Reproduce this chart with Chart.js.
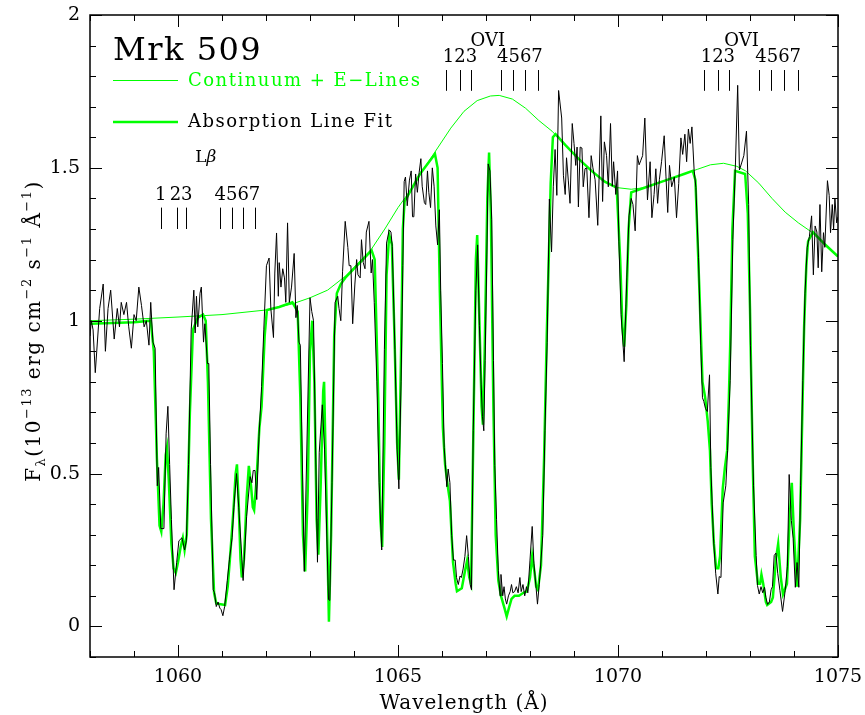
<!DOCTYPE html>
<html>
<head>
<meta charset="utf-8">
<title>Mrk 509</title>
<script src="https://cdn.jsdelivr.net/npm/chart.js@4.4.1/dist/chart.umd.min.js"></script>
<style>
  html, body { margin: 0; padding: 0; background: #fff; }
  #wrap { width: 865px; height: 715px; }
</style>
</head>
<body>
<div id="wrap"><canvas id="spec" width="865" height="715"></canvas></div>
<script>
// observed flux (wavelength in A, flux in 1e-13 cgs)
const obsSpectrum = [
  [1058.00, 0.95], [1058.03, 1.00], [1058.07, 0.97], [1058.12, 0.83], [1058.22, 1.04], [1058.30, 1.12],
  [1058.35, 0.90], [1058.41, 1.04], [1058.47, 1.10], [1058.55, 0.94], [1058.62, 1.04], [1058.67, 0.98],
  [1058.71, 1.06], [1058.77, 1.02], [1058.83, 1.06], [1058.88, 0.98], [1058.94, 0.91], [1059.00, 1.02],
  [1059.05, 1.00], [1059.11, 1.11], [1059.17, 1.05], [1059.23, 0.98], [1059.28, 1.00], [1059.34, 0.92],
  [1059.38, 1.06], [1059.43, 0.93], [1059.48, 0.91], [1059.53, 0.46], [1059.56, 0.52], [1059.61, 0.32],
  [1059.68, 0.32], [1059.73, 0.63], [1059.77, 0.72], [1059.81, 0.53], [1059.85, 0.35], [1059.91, 0.12],
  [1059.97, 0.21], [1060.02, 0.28], [1060.09, 0.29], [1060.15, 0.25], [1060.19, 0.28], [1060.24, 0.53],
  [1060.30, 0.97], [1060.36, 1.10], [1060.39, 0.96], [1060.42, 1.08], [1060.45, 0.98], [1060.50, 1.09],
  [1060.53, 1.11], [1060.58, 0.93], [1060.61, 0.99], [1060.67, 0.86], [1060.70, 0.86], [1060.74, 0.53],
  [1060.80, 0.12], [1060.83, 0.11], [1060.87, 0.065], [1060.91, 0.08], [1060.95, 0.06], [1060.98, 0.055],
  [1061.02, 0.035], [1061.06, 0.065], [1061.12, 0.15], [1061.17, 0.22], [1061.23, 0.29], [1061.27, 0.39],
  [1061.33, 0.50], [1061.38, 0.39], [1061.44, 0.25], [1061.48, 0.15], [1061.56, 0.36], [1061.64, 0.49],
  [1061.68, 0.47], [1061.71, 0.51], [1061.75, 0.51], [1061.79, 0.415], [1061.84, 0.62], [1061.90, 0.785],
  [1061.95, 0.97], [1062.01, 1.18], [1062.07, 1.205], [1062.11, 1.04], [1062.17, 0.945], [1062.20, 1.156],
  [1062.24, 1.287], [1062.28, 1.08], [1062.30, 1.19], [1062.34, 1.11], [1062.38, 1.17], [1062.42, 1.14],
  [1062.45, 1.06], [1062.49, 1.32], [1062.53, 1.06], [1062.58, 1.11], [1062.64, 1.22], [1062.68, 1.01],
  [1062.71, 1.05], [1062.75, 0.93], [1062.78, 0.92], [1062.87, 0.18], [1063.00, 1.075], [1063.04, 1.03],
  [1063.08, 1.00], [1063.17, 0.21], [1063.21, 0.57], [1063.28, 0.725], [1063.33, 0.58], [1063.42, 0.088],
  [1063.45, 0.085], [1063.50, 0.47], [1063.57, 1.06], [1063.63, 1.08], [1063.66, 1.04], [1063.70, 1.00],
  [1063.74, 1.16], [1063.80, 1.325], [1063.86, 1.24], [1063.89, 1.18], [1063.93, 1.18], [1063.97, 0.99],
  [1064.02, 1.12], [1064.06, 1.20], [1064.09, 1.15], [1064.14, 1.14], [1064.17, 1.265], [1064.21, 1.19],
  [1064.25, 1.17], [1064.28, 1.29], [1064.34, 1.325], [1064.39, 1.156], [1064.42, 1.20], [1064.46, 1.06],
  [1064.52, 0.80], [1064.57, 0.47], [1064.63, 0.25], [1064.69, 0.905], [1064.74, 1.254], [1064.80, 1.297],
  [1064.84, 1.29], [1064.87, 1.243], [1064.93, 0.905], [1064.98, 0.58], [1065.02, 0.45], [1065.07, 0.80],
  [1065.11, 1.18], [1065.14, 1.455], [1065.17, 1.47], [1065.21, 1.376], [1065.26, 1.46], [1065.30, 1.49],
  [1065.33, 1.34], [1065.36, 1.34], [1065.40, 1.48], [1065.44, 1.42], [1065.48, 1.484], [1065.52, 1.53],
  [1065.55, 1.44], [1065.60, 1.386], [1065.63, 1.38], [1065.67, 1.49], [1065.70, 1.42], [1065.74, 1.37],
  [1065.78, 1.50], [1065.82, 1.44], [1065.86, 1.31], [1065.90, 1.248], [1065.94, 1.363], [1065.97, 1.10],
  [1066.01, 0.86], [1066.05, 0.585], [1066.11, 0.457], [1066.14, 0.515], [1066.18, 0.47], [1066.22, 0.297],
  [1066.26, 0.217], [1066.30, 0.217], [1066.33, 0.16], [1066.37, 0.137], [1066.41, 0.165], [1066.44, 0.16],
  [1066.48, 0.188], [1066.52, 0.229], [1066.56, 0.297], [1066.60, 0.229], [1066.64, 0.137], [1066.67, 0.12],
  [1066.71, 0.64], [1066.77, 1.10], [1066.81, 1.248], [1066.85, 0.985], [1066.89, 0.79], [1066.92, 0.686],
  [1066.95, 0.64], [1066.98, 0.87], [1067.02, 1.215], [1067.05, 1.513], [1067.09, 1.49], [1067.13, 1.33],
  [1067.17, 0.87], [1067.20, 0.526], [1067.24, 0.35], [1067.28, 0.183], [1067.32, 0.10], [1067.34, 0.17],
  [1067.38, 0.10], [1067.41, 0.13], [1067.44, 0.09], [1067.47, 0.073], [1067.51, 0.10], [1067.55, 0.114],
  [1067.58, 0.137], [1067.61, 0.11], [1067.65, 0.114], [1067.69, 0.13], [1067.73, 0.11], [1067.77, 0.16],
  [1067.80, 0.114], [1067.84, 0.137], [1067.88, 0.10], [1067.92, 0.13], [1067.95, 0.11], [1068.00, 0.217],
  [1068.05, 0.327], [1068.09, 0.205], [1068.14, 0.124], [1068.17, 0.073], [1068.21, 0.137], [1068.29, 0.297],
  [1068.34, 0.64], [1068.39, 0.928], [1068.44, 1.398], [1068.49, 1.225], [1068.53, 1.44], [1068.57, 1.56],
  [1068.61, 1.41], [1068.65, 1.753], [1068.72, 1.663], [1068.76, 1.474], [1068.80, 1.413], [1068.83, 1.533],
  [1068.87, 1.46], [1068.91, 1.384], [1068.96, 1.645], [1069.00, 1.58], [1069.04, 1.508], [1069.07, 1.568],
  [1069.10, 1.372], [1069.14, 1.568], [1069.18, 1.565], [1069.21, 1.438], [1069.25, 1.497], [1069.29, 1.50],
  [1069.34, 1.337], [1069.39, 1.54], [1069.43, 1.50], [1069.48, 1.461], [1069.54, 1.312], [1069.61, 1.67],
  [1069.65, 1.39], [1069.69, 1.585], [1069.74, 1.54], [1069.78, 1.438], [1069.83, 1.645], [1069.87, 1.44],
  [1069.90, 1.52], [1069.95, 1.413], [1069.99, 1.49], [1070.02, 1.258], [1070.07, 1.02], [1070.14, 0.866],
  [1070.20, 1.14], [1070.25, 1.343], [1070.30, 1.40], [1070.34, 1.38], [1070.39, 1.294], [1070.44, 1.54],
  [1070.48, 1.51], [1070.52, 1.525], [1070.56, 1.54], [1070.61, 1.663], [1070.67, 1.395], [1070.73, 1.52],
  [1070.77, 1.337], [1070.82, 1.413], [1070.86, 1.497], [1070.90, 1.384], [1070.94, 1.461], [1070.99, 1.52],
  [1071.05, 1.605], [1071.09, 1.473], [1071.13, 1.354], [1071.17, 1.508], [1071.22, 1.438], [1071.28, 1.47],
  [1071.33, 1.337], [1071.38, 1.449], [1071.43, 1.598], [1071.47, 1.544], [1071.52, 1.61], [1071.56, 1.52],
  [1071.60, 1.627], [1071.64, 1.58], [1071.68, 1.634], [1071.73, 1.493], [1071.77, 1.436], [1071.83, 1.206],
  [1071.88, 0.92], [1071.92, 0.748], [1071.95, 0.736], [1071.99, 0.712], [1072.03, 0.703], [1072.08, 0.823],
  [1072.11, 0.52], [1072.17, 0.289], [1072.22, 0.174], [1072.27, 0.106], [1072.30, 0.163], [1072.34, 0.16],
  [1072.39, 0.404], [1072.45, 0.46], [1072.49, 0.575], [1072.55, 0.805], [1072.61, 1.265], [1072.67, 1.516],
  [1072.72, 1.77], [1072.76, 1.493], [1072.81, 1.516], [1072.86, 1.54], [1072.92, 1.62], [1072.97, 1.38],
  [1073.01, 0.92], [1073.08, 0.46], [1073.14, 0.232], [1073.17, 0.134], [1073.21, 0.106], [1073.25, 0.13],
  [1073.29, 0.11], [1073.33, 0.128], [1073.36, 0.095], [1073.40, 0.072], [1073.44, 0.08], [1073.48, 0.12],
  [1073.51, 0.13], [1073.55, 0.232], [1073.59, 0.24], [1073.63, 0.174], [1073.68, 0.118], [1073.74, 0.049],
  [1073.80, 0.118], [1073.85, 0.197], [1073.89, 0.497], [1073.94, 0.346], [1073.98, 0.289], [1074.03, 0.128],
  [1074.07, 0.209], [1074.11, 0.128], [1074.15, 0.46], [1074.20, 0.805], [1074.25, 1.09], [1074.30, 1.24],
  [1074.35, 1.275], [1074.40, 1.343], [1074.44, 1.15], [1074.48, 1.31], [1074.52, 1.29], [1074.55, 1.173],
  [1074.59, 1.38], [1074.63, 1.16], [1074.67, 1.288], [1074.70, 1.24], [1074.76, 1.458], [1074.80, 1.41],
  [1074.83, 1.288], [1074.87, 1.38], [1074.90, 1.30], [1074.93, 1.40], [1074.97, 1.32], [1075.00, 1.34]
];

// absorption line fit
const fitProfile = [
  [1058.00, 0.99], [1059.00, 0.995], [1059.38, 1.00], [1059.45, 0.90], [1059.52, 0.55], [1059.58, 0.33],
  [1059.62, 0.31], [1059.67, 0.40], [1059.72, 0.56], [1059.75, 0.585], [1059.79, 0.48], [1059.85, 0.27],
  [1059.90, 0.19], [1059.95, 0.175], [1060.00, 0.21], [1060.06, 0.26], [1060.11, 0.29], [1060.15, 0.25],
  [1060.20, 0.30], [1060.27, 0.70], [1060.34, 0.97], [1060.45, 1.01], [1060.57, 1.02], [1060.63, 1.00],
  [1060.68, 0.80], [1060.75, 0.35], [1060.82, 0.11], [1060.87, 0.075], [1061.07, 0.07], [1061.13, 0.13],
  [1061.18, 0.22], [1061.26, 0.38], [1061.31, 0.50], [1061.34, 0.53], [1061.38, 0.40], [1061.42, 0.22],
  [1061.45, 0.16], [1061.50, 0.22], [1061.56, 0.42], [1061.61, 0.525], [1061.66, 0.46], [1061.70, 0.39],
  [1061.73, 0.38], [1061.78, 0.47], [1061.85, 0.65], [1061.90, 0.72], [1061.97, 0.95], [1062.02, 1.035],
  [1062.30, 1.045], [1062.60, 1.06], [1062.72, 1.03], [1062.78, 0.75], [1062.84, 0.30], [1062.89, 0.18],
  [1062.95, 0.45], [1063.00, 0.90], [1063.05, 1.00], [1063.10, 0.80], [1063.15, 0.35], [1063.19, 0.235],
  [1063.24, 0.45], [1063.30, 0.77], [1063.32, 0.80], [1063.37, 0.45], [1063.43, 0.015], [1063.48, 0.30],
  [1063.55, 0.95], [1063.61, 1.09], [1063.70, 1.12], [1063.80, 1.14], [1064.00, 1.17], [1064.20, 1.20],
  [1064.40, 1.23], [1064.47, 1.20], [1064.55, 0.75], [1064.60, 0.35], [1064.64, 0.26], [1064.69, 0.60],
  [1064.74, 1.15], [1064.80, 1.28], [1064.86, 1.25], [1064.92, 0.95], [1064.98, 0.60], [1065.02, 0.48],
  [1065.07, 0.90], [1065.11, 1.30], [1065.15, 1.39], [1065.50, 1.48], [1065.84, 1.545], [1065.90, 1.50],
  [1065.95, 1.10], [1066.02, 0.65], [1066.07, 0.53], [1066.13, 0.46], [1066.18, 0.41], [1066.25, 0.21],
  [1066.31, 0.14], [1066.34, 0.115], [1066.45, 0.125], [1066.52, 0.18], [1066.57, 0.215], [1066.62, 0.16],
  [1066.66, 0.14], [1066.72, 0.70], [1066.77, 1.20], [1066.80, 1.28], [1066.85, 1.00], [1066.90, 0.72],
  [1066.93, 0.66], [1066.97, 0.90], [1067.03, 1.40], [1067.07, 1.55], [1067.11, 1.35], [1067.17, 0.70],
  [1067.22, 0.30], [1067.28, 0.15], [1067.34, 0.10], [1067.42, 0.06], [1067.47, 0.033], [1067.52, 0.06],
  [1067.58, 0.09], [1067.65, 0.10], [1067.75, 0.10], [1067.85, 0.11], [1067.93, 0.115], [1068.00, 0.16],
  [1068.05, 0.23], [1068.10, 0.18], [1068.14, 0.13], [1068.18, 0.12], [1068.25, 0.20], [1068.32, 0.55],
  [1068.38, 0.95], [1068.43, 1.22], [1068.47, 1.45], [1068.52, 1.60], [1068.58, 1.61], [1068.80, 1.575],
  [1069.10, 1.53], [1069.40, 1.49], [1069.70, 1.455], [1069.97, 1.435], [1070.05, 1.20], [1070.10, 0.98],
  [1070.14, 0.915], [1070.19, 1.05], [1070.24, 1.30], [1070.30, 1.42], [1070.60, 1.435], [1070.90, 1.45],
  [1071.20, 1.465], [1071.50, 1.48], [1071.70, 1.49], [1071.76, 1.46], [1071.85, 1.10], [1071.92, 0.80],
  [1071.98, 0.75], [1072.04, 0.67], [1072.09, 0.575], [1072.13, 0.40], [1072.18, 0.27], [1072.23, 0.19],
  [1072.28, 0.19], [1072.32, 0.23], [1072.38, 0.45], [1072.43, 0.52], [1072.48, 0.575], [1072.52, 0.75],
  [1072.55, 0.92], [1072.60, 1.30], [1072.66, 1.49], [1072.89, 1.48], [1072.95, 1.35], [1073.00, 1.04],
  [1073.06, 0.55], [1073.11, 0.23], [1073.18, 0.14], [1073.23, 0.14], [1073.26, 0.17], [1073.30, 0.14],
  [1073.36, 0.08], [1073.39, 0.07], [1073.48, 0.08], [1073.52, 0.095], [1073.59, 0.22], [1073.64, 0.27],
  [1073.70, 0.16], [1073.75, 0.105], [1073.84, 0.14], [1073.90, 0.35], [1073.95, 0.47], [1074.00, 0.30],
  [1074.07, 0.13], [1074.14, 0.35], [1074.19, 0.70], [1074.23, 0.98], [1074.28, 1.18], [1074.32, 1.26],
  [1074.43, 1.29], [1074.70, 1.25], [1075.00, 1.21]
];

// continuum + emission lines
const continuum = [
  [1058.0, 1.00], [1059.0, 1.005], [1060.0, 1.012], [1061.0, 1.02], [1062.0, 1.035], [1062.6, 1.055],
  [1063.0, 1.075], [1063.4, 1.10], [1063.8, 1.145], [1064.1, 1.19], [1064.4, 1.235], [1064.7, 1.30],
  [1065.0, 1.37], [1065.3, 1.43], [1065.6, 1.50], [1065.9, 1.565], [1066.2, 1.63], [1066.5, 1.685],
  [1066.8, 1.72], [1067.1, 1.735], [1067.3, 1.737], [1067.6, 1.725], [1067.9, 1.695], [1068.2, 1.655],
  [1068.5, 1.62], [1068.8, 1.575], [1069.1, 1.53], [1069.4, 1.49], [1069.7, 1.455], [1070.0, 1.435],
  [1070.3, 1.43], [1070.6, 1.435], [1070.9, 1.45], [1071.2, 1.465], [1071.5, 1.48], [1071.8, 1.495],
  [1072.1, 1.51], [1072.4, 1.515], [1072.7, 1.505], [1072.9, 1.49], [1073.2, 1.45], [1073.5, 1.40],
  [1073.8, 1.355], [1074.1, 1.32], [1074.4, 1.29], [1074.7, 1.25], [1075.0, 1.21]
];

const xRange = [1058, 1075];
const yRange = [-0.1, 2];
const xTickVals = [1060, 1065, 1070, 1075];
const yTickVals = [0, 0.5, 1, 1.5, 2];
const yTickLabels = ['0', '0.5', '1', '1.5', '2'];

// line identification marks (wavelengths)
const lyBetaMarks = [1059.61, 1059.97, 1060.18, 1060.95, 1061.22, 1061.48, 1061.75];
const oviMarksA = [1066.09, 1066.41, 1066.66, 1067.33, 1067.61, 1067.89, 1068.19];
const oviMarksB = [1071.96, 1072.28, 1072.53, 1073.20, 1073.48, 1073.78, 1074.08];

const GREEN = '#00ff00';
const SERIF = "'DejaVu Serif', serif";

function toPoints(pairs) {
  return pairs.map(p => ({ x: p[0], y: p[1] }));
}

// draws a run of text pieces with sub/superscripts, starting at x
function drawPieces(ctx, pieces, x, y) {
  pieces.forEach(p => {
    ctx.font = p.size + 'px ' + SERIF;
    ctx.fillText(p.t, x, y + (p.dy || 0));
    x += ctx.measureText(p.t).width;
  });
  return x;
}

function piecesWidth(ctx, pieces) {
  let w = 0;
  pieces.forEach(p => {
    ctx.font = p.size + 'px ' + SERIF;
    w += ctx.measureText(p.t).width;
  });
  return w;
}

const decorations = {
  id: 'decorations',
  afterDatasetsDraw(chart) {
    const ctx = chart.ctx;
    const { left, right, top, bottom } = chart.chartArea;
    const xs = chart.scales.x;
    const ys = chart.scales.y;

    ctx.save();
    ctx.strokeStyle = '#000';
    ctx.lineWidth = 1;

    // inward ticks on all four sides
    ctx.beginPath();
    for (let w = xRange[0]; w <= xRange[1]; w++) {
      const len = w % 5 === 0 ? 12 : 6;
      const px = Math.round(xs.getPixelForValue(w)) + 0.5;
      ctx.moveTo(px, bottom); ctx.lineTo(px, bottom - len);
      ctx.moveTo(px, top); ctx.lineTo(px, top + len);
    }
    for (let i = -1; i <= 20; i++) {
      const len = i % 5 === 0 ? 12 : 6;
      const py = Math.round(ys.getPixelForValue(i / 10)) + 0.5;
      ctx.moveTo(left, py); ctx.lineTo(left + len, py);
      ctx.moveTo(right, py); ctx.lineTo(right - len, py);
    }
    ctx.stroke();

    ctx.lineWidth = 1.5;
    ctx.strokeRect(left, top, right - left, bottom - top);

    // line id marks
    ctx.lineWidth = 1;
    function marks(waves, yTop, yBot) {
      ctx.beginPath();
      waves.forEach(w => {
        const px = Math.round(xs.getPixelForValue(w)) + 0.5;
        ctx.moveTo(px, ys.getPixelForValue(yTop));
        ctx.lineTo(px, ys.getPixelForValue(yBot));
      });
      ctx.stroke();
    }
    marks(lyBetaMarks, 1.37, 1.30);
    marks(oviMarksA, 1.82, 1.752);
    marks(oviMarksB, 1.82, 1.752);

    ctx.fillStyle = '#000';
    ctx.textAlign = 'center';
    ctx.textBaseline = 'middle';
    ctx.font = '18px ' + SERIF;
    function label(text, w, f) {
      ctx.fillText(text, xs.getPixelForValue(w), ys.getPixelForValue(f));
    }
    label('1', 1059.61, 1.41);
    label('23', 1060.07, 1.41);
    label('4567', 1061.35, 1.41);
    label('123', 1066.41, 1.86);
    label('4567', 1067.77, 1.86);
    label('OVI', 1067.04, 1.915);
    label('123', 1072.27, 1.86);
    label('4567', 1073.64, 1.86);
    label('OVI', 1072.81, 1.915);

    // L-beta label
    ctx.textAlign = 'left';
    const lbx = xs.getPixelForValue(1060.64) - 11;
    const lby = ys.getPixelForValue(1.535);
    ctx.font = '17px ' + SERIF;
    ctx.fillText('L', lbx, lby);
    const lw = ctx.measureText('L').width;
    ctx.font = 'italic 17px ' + SERIF;
    ctx.fillText('\u03b2', lbx + lw, lby);

    // object name
    ctx.textBaseline = 'alphabetic';
    ctx.letterSpacing = '1.5px';
    ctx.font = '32px ' + SERIF;
    ctx.fillText('Mrk 509', 113, 60);

    // key
    ctx.font = '18px ' + SERIF;
    ctx.fillStyle = GREEN;
    ctx.fillText('Continuum + E\u2212Lines', 188, 86);
    ctx.fillStyle = '#000';
    ctx.fillText('Absorption Line Fit', 188, 127);
    ctx.strokeStyle = GREEN;
    ctx.lineWidth = 1;
    ctx.beginPath(); ctx.moveTo(113, 80.5); ctx.lineTo(178, 80.5); ctx.stroke();
    ctx.lineWidth = 2.5;
    ctx.beginPath(); ctx.moveTo(113, 122); ctx.lineTo(178, 122); ctx.stroke();

    // x axis title
    ctx.fillStyle = '#000';
    ctx.letterSpacing = '1px';
    ctx.textAlign = 'center';
    ctx.font = '20px ' + SERIF;
    ctx.fillText('Wavelength (\u00c5)', (left + right) / 2, 709);

    // y axis title, rotated
    ctx.letterSpacing = '1.5px';
    ctx.textAlign = 'left';
    const big = 20, small = 13;
    const yTitle = [
      { t: 'F', size: big },
      { t: '\u03bb', size: small, dy: 5 },
      { t: '(10', size: big },
      { t: '\u221213', size: small, dy: -9 },
      { t: ' erg cm', size: big },
      { t: '\u22122', size: small, dy: -9 },
      { t: ' s', size: big },
      { t: '\u22121', size: small, dy: -9 },
      { t: ' \u00c5', size: big },
      { t: '\u22121', size: small, dy: -9 },
      { t: ')', size: big }
    ];
    const tw = piecesWidth(ctx, yTitle);
    ctx.translate(40, 331);
    ctx.rotate(-Math.PI / 2);
    drawPieces(ctx, yTitle, -tw / 2, 0);
    ctx.restore();
  }
};

new Chart(document.getElementById('spec'), {
  type: 'scatter',
  data: {
    datasets: [
      {
        label: 'Data',
        data: toPoints(obsSpectrum),
        showLine: true,
        borderColor: '#000',
        borderWidth: 1,
        pointRadius: 0,
        tension: 0
      },
      {
        label: 'Absorption Line Fit',
        data: toPoints(fitProfile),
        showLine: true,
        borderColor: GREEN,
        borderWidth: 2.5,
        pointRadius: 0,
        tension: 0
      },
      {
        label: 'Continuum + E-Lines',
        data: toPoints(continuum),
        showLine: true,
        borderColor: GREEN,
        borderWidth: 1,
        pointRadius: 0,
        tension: 0
      }
    ]
  },
  options: {
    responsive: false,
    devicePixelRatio: 1,
    animation: false,
    layout: { padding: { left: 0, right: 27, top: 15, bottom: 0 } },
    plugins: {
      legend: { display: false },
      tooltip: { enabled: false }
    },
    scales: {
      x: {
        type: 'linear',
        min: xRange[0],
        max: xRange[1],
        afterBuildTicks: s => { s.ticks = xTickVals.map(v => ({ value: v })); },
        afterFit: s => { s.height = 58; s.paddingLeft = 0; s.paddingRight = 0; },
        grid: { display: false, drawTicks: false },
        border: { display: false },
        ticks: {
          color: '#000',
          padding: 9,
          maxRotation: 0,
          font: { family: SERIF, size: 19 },
          callback: v => String(v)
        }
      },
      y: {
        type: 'linear',
        min: yRange[0],
        max: yRange[1],
        afterBuildTicks: s => { s.ticks = yTickVals.map(v => ({ value: v })); },
        afterFit: s => { s.width = 90; s.paddingTop = 0; s.paddingBottom = 0; },
        grid: { display: false, drawTicks: false },
        border: { display: false },
        ticks: {
          color: '#000',
          padding: 10,
          font: { family: SERIF, size: 19 },
          callback: v => yTickLabels[yTickVals.indexOf(v)]
        }
      }
    }
  },
  plugins: [decorations]
});
</script>
</body>
</html>
